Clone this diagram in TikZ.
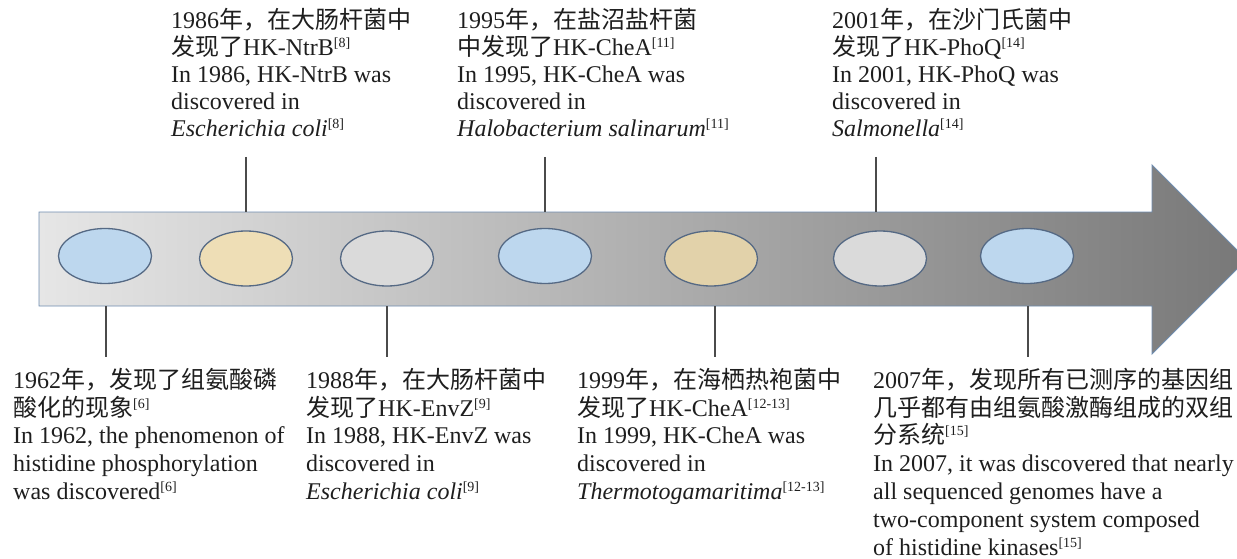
\documentclass[tikz,border=0pt]{standalone}
\usepackage{fontspec}
\setmainfont{Liberation Serif}
\newfontfamily\cjk{Noto Sans CJK SC}
\usetikzlibrary{shapes.geometric}
\definecolor{txt}{RGB}{30,30,30}
\definecolor{tickc}{RGB}{75,75,75}
\definecolor{edgec}{RGB}{85,105,132}
\definecolor{arrowedge}{RGB}{110,140,175}
\definecolor{blueE}{RGB}{189,215,238}
\definecolor{tanE}{RGB}{238,222,182}
\definecolor{tanF}{RGB}{226,210,170}
\definecolor{greyE}{RGB}{218,218,218}
\definecolor{shadeL}{RGB}{230,230,230}
\definecolor{shadeR}{RGB}{120,120,120}
\newcommand\refsup[1]{\raisebox{0.33em}{\fontsize{14}{14}\selectfont[#1]}}
\newcommand\zh[1]{{\cjk #1}}
\newcommand\firstline{\rule{0pt}{22pt}}
\tikzset{
  blk/.style={anchor=north west, inner sep=0pt, align=left, text=txt,
    font=\fontsize{24}{27.1}\selectfont},
  blkb/.style={blk, font=\fontsize{24}{27.8}\selectfont},
  dot/.style={ellipse, draw=edgec, line width=1.3pt, minimum width=93pt, minimum height=55pt, inner sep=0pt},
  tick/.style={draw=tickc, line width=1.3pt}
}
\begin{document}
\begin{tikzpicture}[x=1pt,y=-1pt]
\useasboundingbox (0,0) rectangle (1237,559);
% arrow
\path[left color=shadeL, right color=shadeR, draw=arrowedge, line width=0.9pt]
  (39,212) -- (1152,212) -- (1152,165) -- (1246.5,259.5) -- (1152,354) -- (1152,306) -- (39,306) -- cycle;
% ellipses
\node[dot, fill=blueE] (e1) at (105,256) {};
\node[dot, fill=tanE]  (e2) at (246,258.5) {};
\node[dot, fill=greyE] (e3) at (387,258.5) {};
\node[dot, fill=blueE] (e4) at (545,256) {};
\node[dot, fill=tanF]  (e5) at (711,258.5) {};
\node[dot, fill=greyE] (e6) at (880,258.5) {};
\node[dot, fill=blueE] (e7) at (1027,256) {};
% top texts
\node[blk] (t1986) at (171,6) {\firstline 1986\zh{年，在大肠杆菌中}\\
\zh{发现了}HK-NtrB\refsup{8}\\
In 1986, HK-NtrB was\\
discovered in\\
\textit{Escherichia coli}\refsup{8}};
\node[blk] (t1995) at (457,6) {\firstline 1995\zh{年，在盐沼盐杆菌}\\
\zh{中发现了}HK-CheA\refsup{11}\\
In 1995, HK-CheA was\\
discovered in\\
\textit{Halobacterium salinarum}\refsup{11}};
\node[blk] (t2001) at (832,6) {\firstline 2001\zh{年，在沙门氏菌中}\\
\zh{发现了}HK-PhoQ\refsup{14}\\
In 2001, HK-PhoQ was\\
discovered in\\
\textit{Salmonella}\refsup{14}};
% bottom texts
\node[blkb] (t1962) at (13,366) {\firstline 1962\zh{年，发现了组氨酸磷}\\
\zh{酸化的现象}\refsup{6}\\
In 1962, the phenomenon of\\
histidine phosphorylation\\
was discovered\refsup{6}};
\node[blkb] (t1988) at (306,366) {\firstline 1988\zh{年，在大肠杆菌中}\\
\zh{发现了}HK-EnvZ\refsup{9}\\
In 1988, HK-EnvZ was\\
discovered in\\
\textit{Escherichia coli}\refsup{9}};
\node[blkb] (t1999) at (577,366) {\firstline 1999\zh{年，在海栖热袍菌中}\\
\zh{发现了}HK-CheA\refsup{12-13}\\
In 1999, HK-CheA was\\
discovered in\\
\textit{Thermotogamaritima}\refsup{12-13}};
\node[blkb] (t2007) at (873,366) {\firstline 2007\zh{年，发现所有已测序的基因组}\\
\zh{几乎都有由组氨酸激酶组成的双组}\\
\zh{分系统}\refsup{15}\\
In 2007, it was discovered that nearly\\
all sequenced genomes have a\\
two-component system composed\\
of histidine kinases\refsup{15}};
% tick coordinates
\coordinate (a1986) at (246,157); \coordinate (b1986) at (246,212);
\coordinate (a1995) at (545,157); \coordinate (b1995) at (545,212);
\coordinate (a2001) at (876,157); \coordinate (b2001) at (876,212);
\coordinate (a1962) at (106,306); \coordinate (b1962) at (106,357);
\coordinate (a1988) at (387,306); \coordinate (b1988) at (387,357);
\coordinate (a1999) at (715,306); \coordinate (b1999) at (715,357);
\coordinate (a2007) at (1028,306); \coordinate (b2007) at (1028,357);
\foreach \y in {1986,1995,2001,1962,1988,1999,2007} \draw[tick] (a\y) -- (b\y);
\end{tikzpicture}
\end{document}
